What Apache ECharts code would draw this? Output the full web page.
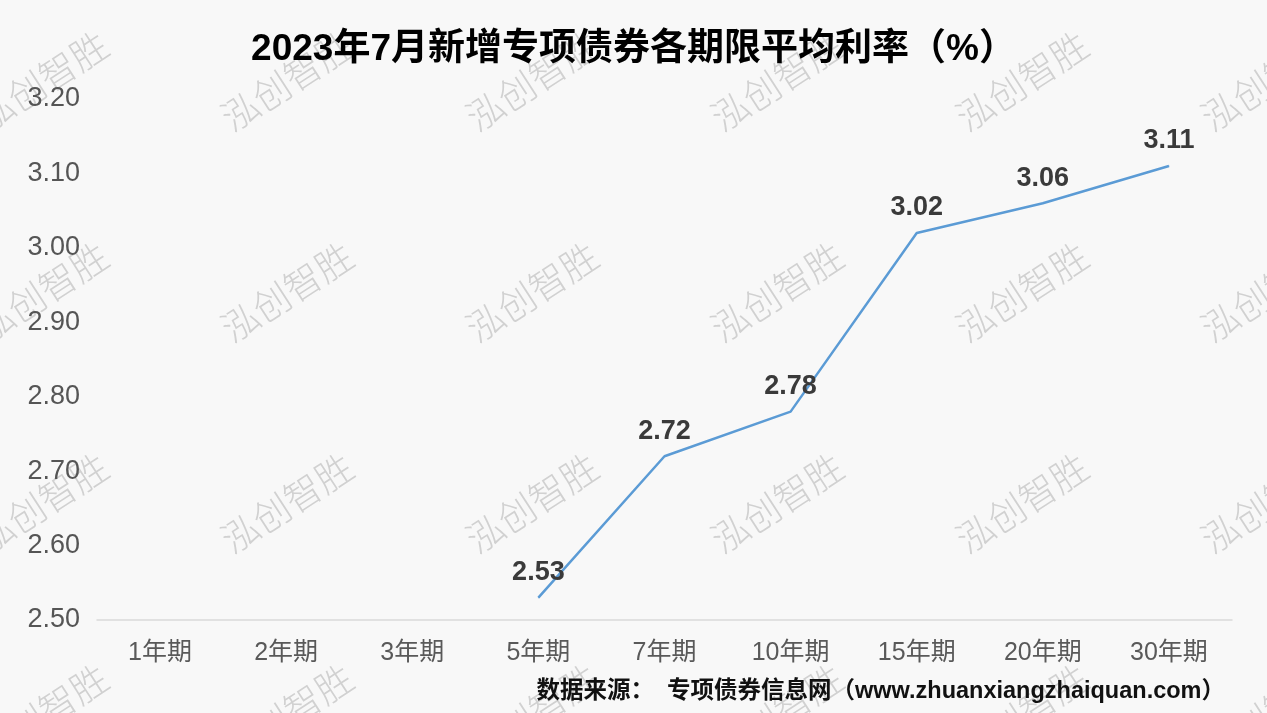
<!DOCTYPE html>
<html>
<head>
<meta charset="utf-8">
<script src="https://cdn.jsdelivr.net/npm/echarts@6/dist/echarts.min.js"></script>
<style>
  html, body { margin: 0; padding: 0; background: #f8f8f8; }
  #chart { width: 1267px; height: 713px; }
</style>
</head>
<body>
<div id="chart"></div>
<script>
// Terms (categories) and average rates (%) for new special bonds, July 2023
const categories = ['1年期', '2年期', '3年期', '5年期', '7年期', '10年期', '15年期', '20年期', '30年期'];
const avgRates = [null, null, null, 2.53, 2.72, 2.78, 3.02, 3.06, 3.11];
const yTicks = [2.5, 2.6, 2.7, 2.8, 2.9, 3.0, 3.1, 3.2];

const titleText = '2023年7月新增专项债券各期限平均利率（%）';
const sourceText = '数据来源：  专项债券信息网（www.zhuanxiangzhaiquan.com）';
const markText = '泓创智胜';

// Latin digits from a Helvetica-metric face, CJK glyphs fall back to Noto CJK
const FONT = '"Liberation Sans", "Noto Sans CJK SC", sans-serif';
const CJK_FONT = '"Noto Sans CJK SC", "Noto Sans", sans-serif';

// Tiled brand marks across the canvas
const markCols = [42, 287, 532, 777, 1022, 1267];
const markRows = [81, 292, 503, 714];
const marks = [];
markRows.forEach(function (y) {
  markCols.forEach(function (x) {
    marks.push({
      type: 'text',
      x: x,
      y: y,
      rotation: 33 * Math.PI / 180,
      silent: true,
      z: 0,
      style: {
        text: markText,
        fill: 'rgba(150,150,150,0.4)',
        font: '300 37px ' + CJK_FONT,
        align: 'center',
        verticalAlign: 'middle'
      }
    });
  });
});

const chart = echarts.init(document.getElementById('chart'));
chart.setOption({
  backgroundColor: '#f8f8f8',
  animation: false,
  title: {
    text: titleText,
    left: 'center',
    top: 26,
    textStyle: {
      fontFamily: FONT,
      fontSize: 37,
      fontWeight: 'bold',
      color: '#000'
    }
  },
  graphic: marks.concat([{
    type: 'text',
    right: 42,
    top: 680,
    z: 10,
    style: {
      text: sourceText,
      fill: '#111',
      font: '600 23.5px ' + FONT
    }
  }]),
  grid: { left: 97, right: 35, top: 99, bottom: 93 },
  xAxis: {
    type: 'category',
    data: categories,
    boundaryGap: true,
    axisLine: { show: true, lineStyle: { color: '#d9d9d9', width: 1.5 } },
    axisTick: { show: false },
    axisLabel: {
      margin: 21,
      fontFamily: FONT,
      fontSize: 25,
      color: '#595959'
    }
  },
  yAxis: {
    type: 'value',
    min: yTicks[0],
    max: yTicks[yTicks.length - 1],
    interval: 0.1,
    axisLine: { show: false },
    axisTick: { show: false },
    splitLine: { show: false },
    axisLabel: {
      margin: 17,
      fontFamily: FONT,
      fontSize: 27,
      color: '#555555',
      formatter: function (v) { return v.toFixed(2); }
    }
  },
  series: [{
    type: 'line',
    data: avgRates,
    z: 5,
    symbol: 'circle',
    symbolSize: 1,
    itemStyle: { color: '#5b9bd5' },
    lineStyle: { color: '#5b9bd5', width: 2.5 },
    label: {
      show: true,
      position: 'top',
      distance: 11,
      fontFamily: FONT,
      fontSize: 27,
      fontWeight: 'bold',
      color: '#3a3a3a',
      formatter: function (p) { return p.value == null ? '' : p.value.toFixed(2); }
    }
  }]
});
</script>
</body>
</html>
